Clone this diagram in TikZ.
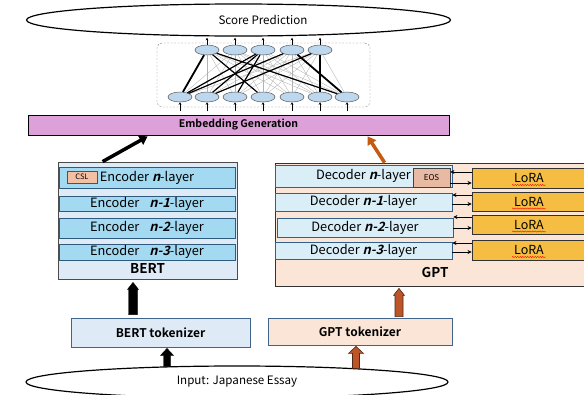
\documentclass[tikz,border=0pt]{standalone}
\usepackage{fontspec}
\setmainfont{Noto Sans CJK JP}[BoldFont={Noto Sans CJK JP Bold},ItalicFont={Noto Sans CJK JP},ItalicFeatures={FakeSlant=0.25},BoldItalicFont={Noto Sans CJK JP Bold},BoldItalicFeatures={FakeSlant=0.25}]
\usetikzlibrary{shapes.geometric,arrows.meta,decorations.pathmorphing,calc}
\definecolor{embfill}{RGB}{221,160,216}
\definecolor{bertbg}{RGB}{222,235,247}
\definecolor{encfill}{RGB}{163,217,241}
\definecolor{encborder}{RGB}{45,90,125}
\definecolor{gptbg}{RGB}{251,229,214}
\definecolor{decfill}{RGB}{218,238,248}
\definecolor{decborder}{RGB}{50,95,140}
\definecolor{eosfill}{RGB}{232,186,164}
\definecolor{cslfill}{RGB}{244,192,164}
\definecolor{lorafill}{RGB}{245,190,66}
\definecolor{nnfill}{RGB}{189,215,238}
\definecolor{tokborder}{RGB}{65,100,140}
\definecolor{gptarrow}{RGB}{197,90,17}
\definecolor{brownfill}{RGB}{190,85,40}
\definecolor{browndraw}{RGB}{80,40,20}
\newcommand\blockarrow[6]{%
  \path[#1] let \p1=(#2), \p2=(#3) in
    (\x1-#4,\y1) -- (\x1-#4,\y2-#6) -- (\x1-#5,\y2-#6) -- (\x1,\y2) --
    (\x1+#5,\y2-#6) -- (\x1+#4,\y2-#6) -- (\x1+#4,\y1) -- cycle;}
\begin{document}
\begin{tikzpicture}[x=1pt,y=-1pt,
  txt/.style={font=\fontsize{11.6}{13}\selectfont},
  layer/.style={font=\fontsize{12.8}{14}\selectfont},
  boldlbl/.style={font=\bfseries\fontsize{12}{14}\selectfont},
  box/.style={draw, rectangle, inner sep=0pt, line width=0.8pt},
  enc/.style={box, layer, draw=encborder, fill=encfill, minimum width=176pt, line width=0.9pt},
  dec/.style={box, layer, draw=decborder, fill=decfill, minimum width=177pt, line width=0.9pt},
  lora/.style={box, draw=black!80, fill=lorafill, minimum width=114pt, line width=0.9pt, font=\fontsize{12.5}{14}\selectfont},
  neuron/.style={ellipse, draw=gray!70!black, fill=nnfill, minimum width=24pt, minimum height=10pt, inner sep=0pt, line width=0.5pt},
  thin/.style={gray!60, line width=0.35pt},
  heavy/.style={black, line width=1.2pt},
  heavier/.style={black, line width=1.8pt},
  small/.style={-{Stealth[length=2.5pt,width=2.5pt]}, line width=0.5pt},
  sarr/.style={-{Stealth[length=4pt,width=4pt]}, line width=0.9pt},
  wavy/.style={red, line width=0.4pt, decorate, decoration={snake, amplitude=0.6pt, segment length=2.5pt}}
]
\useasboundingbox (0,0) rectangle (584,394);
\clip (0,0) rectangle (584,394);

% score prediction
\node[ellipse, draw, line width=1.2pt, minimum width=424pt, minimum height=32pt, inner sep=0pt] (score) at (238.5,20) {};
\node[txt] (scoretxt) at (263,20) {Score Prediction};

% network
\node[draw=gray, dash pattern=on 2pt off 1.5pt, rounded corners=5pt, minimum width=213pt, minimum height=64pt, inner sep=0pt] (frame) at (263.5,75) {};
\foreach \x [count=\i] in {207,235,263,292,320} \node[neuron] (t\i) at (\x,50) {};
\foreach \x [count=\i] in {180,207,235,263,292,320,347} \node[neuron] (b\i) at (\x,97) {};
\foreach \i in {1,...,5} \foreach \j in {1,...,7} \draw[thin] (t\i) -- (b\j);
\foreach \a/\b in {1/4,1/7,3/1,3/2,3/3,4/1,5/2} \draw[heavy] (t\a) -- (b\b);
\foreach \a/\b in {1/1,4/7,5/6} \draw[heavier] (t\a) -- (b\b);
\foreach \i in {1,...,5} \draw[small] (t\i.north) -- ++(0,-7);
\foreach \i in {1,...,7} \draw[small] ($(b\i.south)+(0,9)$) -- (b\i.south);

% embedding
\node[box, fill=embfill, minimum width=421pt, minimum height=20pt, font=\bfseries\fontsize{10.5}{12}\selectfont] (emb) at (238.5,125) {Embedding Generation};

% BERT
\node[box, draw=gray!60!black, fill=bertbg, minimum width=179pt, minimum height=117pt] (bert) at (147.5,220.5) {};
\node[font=\bfseries\fontsize{13.5}{15}\selectfont] (bertlbl) at (147.5,268.5) {BERT};
\node[enc, minimum height=21pt] (e1) at (147,177.5) {Encoder {\bfseries\itshape n}-layer};
\node[enc, minimum height=15pt] (e2) at (147,203.5) {Encoder\hspace{10pt}{\bfseries\itshape n-1}-layer};
\node[enc, minimum height=20pt] (e3) at (147,228) {Encoder\hspace{10pt}{\bfseries\itshape n-2}-layer};
\node[enc, minimum height=16pt] (e4) at (147,252) {Encoder\hspace{10pt}{\bfseries\itshape n-3}-layer};
\node[box, draw=encborder, fill=cslfill, minimum width=30pt, minimum height=12pt, font=\fontsize{7.5}{8}\selectfont] (csl) at (82,177) {CSL};

% GPT
\node[box, draw=black!80, fill=gptbg, minimum width=312pt, minimum height=123pt] (gpt) at (431,224.5) {};
\node[font=\bfseries\fontsize{13.5}{15}\selectfont] (gptlbl) at (435,272) {GPT};
\node[dec, minimum height=22pt] (d1) at (363.5,176) {Decoder {\bfseries\itshape n}-layer};
\node[dec, minimum height=18pt] (d2) at (363.5,202) {Decoder {\bfseries\itshape n-1}-layer};
\node[dec, minimum height=19pt, minimum width=176pt] (d3) at (365,227.5) {Decoder {\bfseries\itshape n-2}-layer};
\node[dec, minimum height=17pt] (d4) at (363.5,250.5) {Decoder {\bfseries\itshape n-3}-layer};
\node[box, draw=gray!50!black, fill=eosfill, minimum width=37pt, minimum height=19pt, font=\fontsize{8}{9}\selectfont] (eos) at (431.5,177.5) {EOS};

\node[lora, minimum height=20pt] (l1) at (529,178) {LoRA};
\node[lora, minimum height=19pt] (l2) at (529,201.5) {LoRA};
\node[lora, minimum height=19pt] (l3) at (529,224.5) {LoRA};
\node[lora, minimum height=20pt] (l4) at (529,250) {LoRA};
\foreach \i in {1,...,4} \draw[wavy] ($(l\i.center)+(-17,7)$) -- ($(l\i.center)+(17,7)$);

\draw[sarr] ([yshift=6pt]l1.west) -- ([yshift=6pt]l1.west -| eos.east);
\draw[sarr] ([yshift=-5pt]l1.west -| eos.east) -- ([yshift=-5pt]l1.west);
\draw[sarr] ([yshift=6.5pt]l2.west) -- ([yshift=6.5pt]l2.west -| d2.east);
\draw[sarr] ([yshift=-2.5pt]l2.west -| d2.east) -- ([yshift=-2.5pt]l2.west);
\draw[sarr] ([yshift=7.5pt]l3.west) -- ([yshift=7.5pt]l3.west -| d3.east);
\draw[sarr] ([yshift=-3.5pt]l3.west -| d3.east) -- ([yshift=-3.5pt]l3.west);
\draw[sarr] ([yshift=7pt]l4.west) -- ([yshift=7pt]l4.west -| d4.east);
\draw[sarr] ([yshift=-2pt]l4.west -| d4.east) -- ([yshift=-2pt]l4.west);

% tokenizers
\node[box, boldlbl, draw=tokborder, fill=bertbg, minimum width=179pt, minimum height=29pt] (btok) at (160.5,332.5) {BERT tokenizer};
\node[box, boldlbl, draw=tokborder, fill=gptbg, minimum width=184pt, minimum height=27pt] (gtok) at (360,331.5) {GPT tokenizer};

% input
\node[ellipse, draw, line width=1.2pt, minimum width=422pt, minimum height=32pt, inner sep=0pt, txt] (input) at (237,382) {Input: Japanese Essay};

% block arrows
\blockarrow{fill=black, draw=black}{$(btok.north)+(-27.5,-3)$}{$(bert.south)+(-14.5,3)$}{4.5pt}{5.5pt}{7pt}
\blockarrow{fill=black, draw=black}{$(input.north)+(-70,1)$}{$(btok.south)+(6.5,1)$}{3.5pt}{6.5pt}{7pt}
\blockarrow{fill=brownfill, draw=browndraw, line width=0.6pt}{$(gtok.north)+(39,-1)$}{$(gpt.south west)+(124,2)$}{4pt}{5.5pt}{7pt}
\blockarrow{fill=brownfill, draw=browndraw, line width=0.6pt}{$(input.north)+(119,3)$}{$(gtok.south)+(-4,1)$}{3.5pt}{7.5pt}{7pt}

% arrows to embedding
\draw[line width=3.5pt, -{Triangle[length=8pt,width=10pt]}] ($(bert.north west)+(45,0)$) -- ($(emb.south west)+(120,1)$);
\draw[line width=3.5pt, gptarrow, -{Triangle[length=8pt,width=10pt]}] ($(gpt.north west)+(110,0)$) -- ($(emb.south west)+(340,1)$);
\end{tikzpicture}
\end{document}
